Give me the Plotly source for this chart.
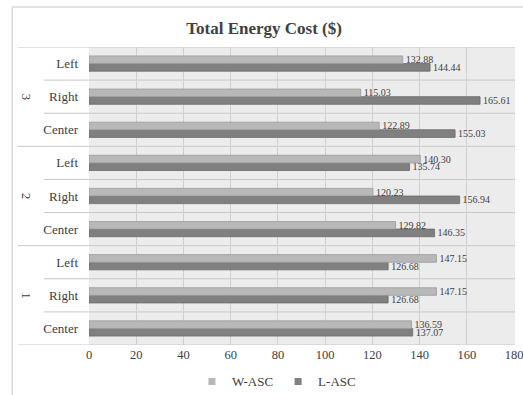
import plotly.graph_objects as go

# Data (bottom to top)
groups = ["1", "1", "1", "2", "2", "2", "3", "3", "3"]
sides = ["Center", "Right", "Left", "Center", "Right", "Left", "Center", "Right", "Left"]
w_asc = [136.59, 147.15, 147.15, 129.82, 120.23, 140.30, 122.89, 115.03, 132.88]
l_asc = [137.07, 126.68, 126.68, 146.35, 156.94, 135.74, 155.03, 165.61, 144.44]
x_ticks = [0, 20, 40, 60, 80, 100, 120, 140, 160, 180]
group_labels = ["1", "2", "3"]

pos = list(range(len(sides)))
serif = "Liberation Serif"
txt = "#404040"
w_col, l_col = "#b8b8b8", "#808080"

fig = go.Figure()
fig.add_trace(go.Bar(
    y=pos, x=l_asc, orientation="h", name="L-ASC", showlegend=False,
    marker=dict(color=l_col, line=dict(color="#6a6a6a", width=0.8)),
    text=[f"{v:.2f}" for v in l_asc], textposition="outside",
    textfont=dict(family=serif, size=10, color=txt), constraintext="none",
    cliponaxis=False,
))
fig.add_trace(go.Bar(
    y=pos, x=w_asc, orientation="h", name="W-ASC", showlegend=False,
    marker=dict(color=w_col, line=dict(color="#9a9a9a", width=0.8)),
    text=[f"{v:.2f}" for v in w_asc], textposition="outside",
    textfont=dict(family=serif, size=10, color=txt), constraintext="none",
    cliponaxis=False,
))
# legend entries (small square swatches)
for name, col in [("W-ASC", w_col), ("L-ASC", l_col)]:
    fig.add_trace(go.Scatter(x=[None], y=[None], mode="markers", name=name,
                             marker=dict(symbol="square", size=7, color=col)))

shapes = []
# outer chart border
shapes.append(dict(type="rect", xref="paper", yref="paper", x0=-0.18, x1=1.03,
                   y0=-0.3, y1=1.134, line=dict(color="#d9d9d9", width=1.5), layer="below"))
# horizontal separators
n = len(sides)
for k in range(n + 1):
    yv = k - 0.5
    is_group = k % 3 == 0
    x0 = -0.167 if is_group else -0.106
    shapes.append(dict(type="line", xref="paper", yref="y", x0=x0, x1=1, y0=yv, y1=yv,
                       line=dict(color="#c8c8c8", width=1), layer="below"))

annotations = []
for gi, g in enumerate(group_labels):
    annotations.append(dict(text=g, xref="paper", yref="y", x=-0.148, y=gi * 3 + 1,
                            xanchor="center", yanchor="middle",
                            showarrow=False, textangle=90,
                            font=dict(family=serif, size=12.5, color=txt)))

fig.update_layout(
    width=523, height=395,
    margin=dict(l=89, r=8, t=47, b=50, autoexpand=False),
    paper_bgcolor="white", plot_bgcolor="#ececec",
    barmode="group", bargap=0.54, bargroupgap=0,
    title=dict(text="<b>Total Energy Cost ($)</b>", x=0.505, xanchor="center", y=0.93,
               yanchor="middle", font=dict(family=serif, size=17, color=txt)),
    xaxis=dict(range=[0, 180.4], tickvals=x_ticks, showgrid=True, gridcolor="#cfcfcf",
               gridwidth=1, zeroline=False, showline=False, ticklabeloverflow="allow",
               automargin=False,
               tickfont=dict(family=serif, size=12.5, color=txt), ticks=""),
    yaxis=dict(range=[-0.5, n - 0.5], tickvals=pos, ticktext=sides, showgrid=False,
               zeroline=False, ticks="", ticklabelstandoff=10, automargin=False,
               tickfont=dict(family=serif, size=13, color=txt)),
    legend=dict(orientation="h", x=0.44, xanchor="center", y=-0.072, yanchor="top",
                font=dict(family=serif, size=13, color=txt), itemwidth=30,
                traceorder="normal"),
    shapes=shapes, annotations=annotations,
    showlegend=True,
)

fig.write_html("out.html", post_script="document.body.style.margin='0';",
               config={"displayModeBar": False})
